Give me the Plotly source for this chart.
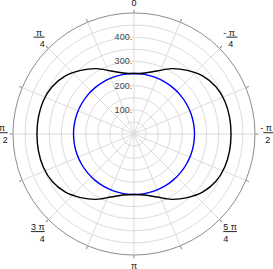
import plotly.graph_objects as go

# angles in degrees, measured counterclockwise from the top
theta_deg = list(range(0, 361, 10))
r_black = [250, 256, 277, 312, 343, 372, 391, 399, 401, 401,
           401, 399, 391, 372, 343, 312, 277, 256, 250,
           256, 277, 312, 343, 372, 391, 399, 401, 401,
           401, 399, 391, 372, 343, 312, 277, 256, 250]
r_blue = [250] * len(theta_deg)

ang_tickvals = [0, 22.5, 45, 67.5, 90, 112.5, 135, 157.5, 180,
                202.5, 225, 247.5, 270, 292.5, 315, 337.5]
ang_ticktext = ["0", "", "<u>\u00a0π\u00a0</u><br>4", "",
                "<u>\u00a0π\u00a0</u><br>2", "",
                "<u>3 π</u><br>4", "", "π", "",
                "<u>5 π</u><br>4", "",
                "-<u>\u00a0π\u00a0</u><br>\u00a0\u00a02", "",
                "-<u>\u00a0π\u00a0</u><br>\u00a0\u00a04", ""]

rad_tickvals = [50, 100, 150, 200, 250, 300, 350, 400, 450]
rad_ticktext = ["", "100.", "", "200.", "", "300.", "", "400.", ""]

fig = go.Figure()
fig.add_trace(go.Scatterpolar(r=r_blue, theta=theta_deg, mode="lines",
                              line=dict(color="#0000ff", width=1.4, shape="spline"),
                              showlegend=False, hoverinfo="skip"))
fig.add_trace(go.Scatterpolar(r=r_black, theta=theta_deg, mode="lines",
                              line=dict(color="#000000", width=1.4, shape="spline"),
                              showlegend=False, hoverinfo="skip"))

fig.update_layout(
    width=273, height=269,
    margin=dict(l=0, r=0, t=0, b=0),
    paper_bgcolor="white",
    font=dict(family="Liberation Sans", size=9, color="#222"),
    polar=dict(
        domain=dict(x=[13 / 273, 255 / 273], y=[14 / 269, 256 / 269]),
        bgcolor="white",
        angularaxis=dict(
            rotation=90, direction="counterclockwise", thetaunit="degrees",
            tickmode="array", tickvals=ang_tickvals, ticktext=ang_ticktext,
            showgrid=True, gridcolor="#dcdcdc", gridwidth=1,
            showline=True, linecolor="#8c8c8c", linewidth=1,
            ticks="outside", ticklen=3, tickcolor="#8c8c8c",
            tickfont=dict(size=9, color="#111"),
        ),
        radialaxis=dict(
            range=[0, 500], angle=90, side="counterclockwise",
            tickmode="array", tickvals=rad_tickvals, ticktext=rad_ticktext,
            showgrid=True, gridcolor="#dcdcdc", gridwidth=1,
            showline=False, ticks="", tickangle=90,
            tickfont=dict(size=9, color="#444"),
        ),
    ),
)

fig.write_html("out.html",
               config={"displayModeBar": False},
               post_script="document.body.style.margin='0';document.body.style.overflow='hidden';")
